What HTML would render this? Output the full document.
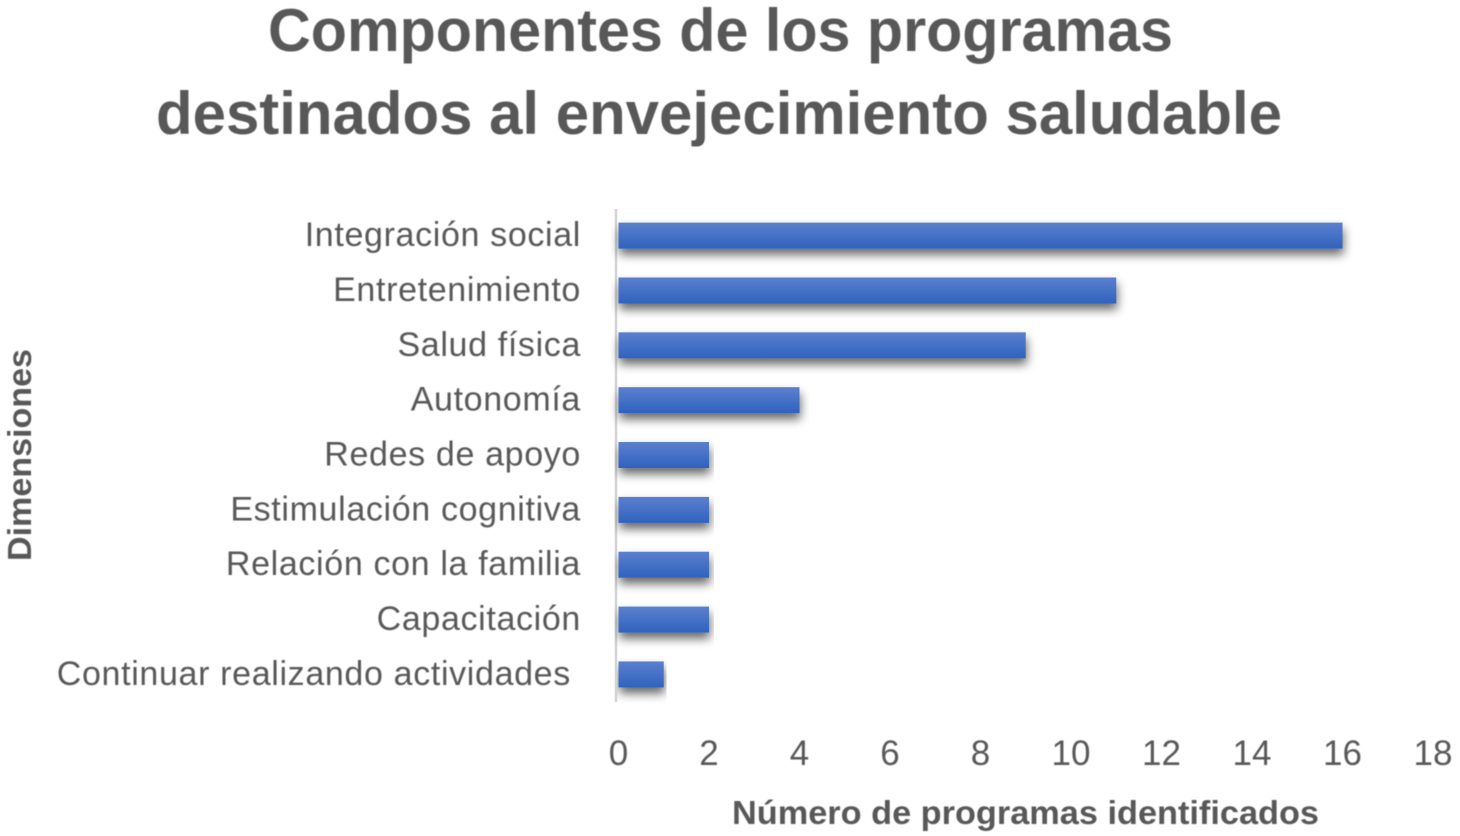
<!DOCTYPE html>
<html lang="es">
<head>
<meta charset="utf-8">
<title>Componentes de los programas</title>
<style>
html,body{margin:0;padding:0;background:#fff;}
svg{display:block;font-family:"Liberation Sans",sans-serif;}
</style>
</head>
<body>
<svg id="chart" width="1460" height="836" viewBox="0 0 1460 836" xmlns="http://www.w3.org/2000/svg">
  <defs>
    <linearGradient id="barFill" x1="0" y1="0" x2="0" y2="1">
      <stop offset="0" stop-color="#5b80cd"/>
      <stop offset="1" stop-color="#2f62bf"/>
    </linearGradient>
    <filter id="barShadow" x="-5%" y="-40%" width="110%" height="220%">
      <feGaussianBlur in="SourceAlpha" stdDeviation="5"/>
      <feOffset dx="1" dy="6"/>
      <feComponentTransfer><feFuncA type="linear" slope="0.6"/></feComponentTransfer>
      <feMerge><feMergeNode/><feMergeNode in="SourceGraphic"/></feMerge>
    </filter>
    <filter id="soft" x="-5%" y="-5%" width="110%" height="110%">
      <feGaussianBlur stdDeviation="0.5"/>
    </filter>
  </defs>
  <rect width="1460" height="836" fill="#ffffff"/>
  <g fill="#595959" font-weight="700" font-size="60" filter="url(#soft)">
    <text x="268" y="51" textLength="905" lengthAdjust="spacingAndGlyphs">Componentes de los programas</text>
    <text x="156" y="134" textLength="1126" lengthAdjust="spacingAndGlyphs">destinados al envejecimiento saludable</text>
  </g>
  <text transform="translate(31,561) rotate(-90)" fill="#595959" font-weight="700" font-size="33" textLength="212" lengthAdjust="spacingAndGlyphs" filter="url(#soft)">Dimensiones</text>
  <text x="732" y="824" fill="#595959" font-weight="700" font-size="33" textLength="587" lengthAdjust="spacingAndGlyphs" filter="url(#soft)">Número de programas identificados</text>
  <line x1="616" x2="616" y1="209" y2="702" stroke="#d4d4d4" stroke-width="2.5"/>
  <g id="bars"></g>
  <g id="catLabels" filter="url(#soft)"></g>
  <g id="xTicks" filter="url(#soft)"></g>
</svg>
<script>
const categories = ["Integración social","Entretenimiento","Salud física","Autonomía","Redes de apoyo","Estimulación cognitiva","Relación con la familia","Capacitación","Continuar realizando actividades "];
const programCounts = [16,11,9,4,2,2,2,2,1];
const xTickValues = [0,2,4,6,8,10,12,14,16,18];

const NS = "http://www.w3.org/2000/svg";
const plotLeft = 618.5, unitWidth = 45.25;
const bandTop = 208.2, bandHeight = 54.85, barHeight = 26;
function xScale(v){ return plotLeft + v * unitWidth; }
function yCenter(i){ return bandTop + bandHeight * (i + 0.5); }

const barsGroup = document.getElementById("bars");
const labelsGroup = document.getElementById("catLabels");
const ticksGroup = document.getElementById("xTicks");

programCounts.forEach(function(v, i){
  const r = document.createElementNS(NS, "rect");
  
  
  r.setAttribute("x", xScale(0));
  r.setAttribute("y", yCenter(i) - barHeight / 2);
  r.setAttribute("width", xScale(v) - xScale(0));
  r.setAttribute("height", barHeight);
  r.setAttribute("fill", "url(#barFill)");
  r.setAttribute("filter", "url(#barShadow)");
  barsGroup.appendChild(r);
});

categories.forEach(function(c, i){
  const t = document.createElementNS(NS, "text");
  
  
  t.setAttribute("x", 581);
  t.setAttribute("y", yCenter(i) + 10.5);
  t.setAttribute("text-anchor", "end");
  t.setAttribute("fill", "#595959");
  t.setAttribute("font-size", "34");
  t.setAttribute("letter-spacing", "0.65");
  t.style.whiteSpace = "pre";
  t.textContent = c;
  labelsGroup.appendChild(t);
});

xTickValues.forEach(function(v){
  const t = document.createElementNS(NS, "text");
  
  
  t.setAttribute("x", xScale(v));
  t.setAttribute("y", 765);
  t.setAttribute("text-anchor", "middle");
  t.setAttribute("fill", "#595959");
  t.setAttribute("font-size", "35");
  t.textContent = v;
  ticksGroup.appendChild(t);
});
</script>
</body>
</html>
